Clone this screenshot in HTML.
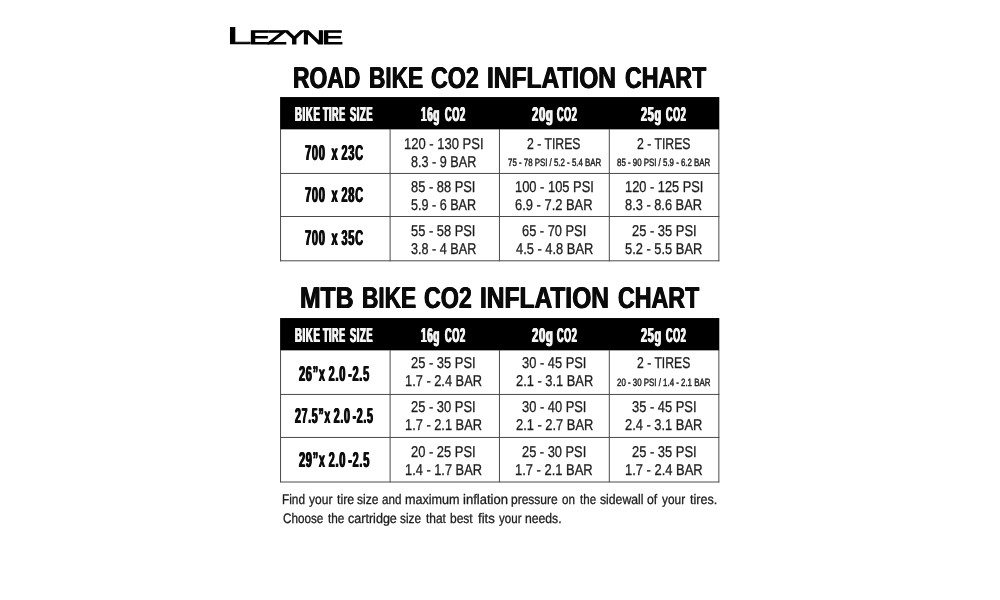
<!DOCTYPE html>
<html lang="en">
<head>
<meta charset="utf-8">
<title>Lezyne CO2 Inflation Chart</title>
<style>
html,body{margin:0;padding:0;background:#fff;}
body{width:1000px;height:600px;position:relative;overflow:hidden;font-family:"Liberation Sans",sans-serif;}
h1,p,section,footer,div{margin:0;padding:0;font-size:inherit;font-weight:inherit;}
.t{position:absolute;display:block;white-space:pre;line-height:1;transform-origin:0 0;text-rendering:geometricPrecision;}
.g{margin-left:4.2px;}
svg{position:absolute;left:0;top:0;}
.title{font-size:30px;font-weight:700;color:#0a0a0a;text-shadow:0.6px 0 0,-0.6px 0 0;}
.hdr{font-size:20.2px;font-weight:700;color:#f4f4f4;letter-spacing:1.3px;text-shadow:1px 0 0,-1px 0 0;}
.lbl{font-size:21.6px;font-weight:700;color:#0d0d0d;letter-spacing:1.4px;word-spacing:-1.6px;text-shadow:0.9px 0 0,-0.9px 0 0;}
.cell{font-size:15.7px;font-weight:400;color:#1c1c1c;-webkit-text-stroke:0.3px;}
.small{font-size:10.6px;font-weight:400;color:#222;-webkit-text-stroke:0.45px;}
.foot{font-size:13.8px;font-weight:400;color:#1c1c1c;-webkit-text-stroke:0.3px;}
.logoL{font-size:24.2px;font-weight:400;color:#000;-webkit-text-stroke:0.7px;}
.logo{font-size:19.2px;font-weight:400;color:#000;-webkit-text-stroke:0.9px;letter-spacing:-1.7px;}
</style>
</head>
<body>
<svg width="1000" height="600" viewBox="0 0 1000 600">
<rect x="280.1" y="97.05" width="439.2" height="32.3" fill="#000"/>
<line x1="280.05" x2="719.35" y1="173.45" y2="173.45" stroke="#4a4a4a" stroke-width="1"/>
<line x1="280.05" x2="719.35" y1="216.5" y2="216.5" stroke="#4a4a4a" stroke-width="1"/>
<line x1="280.05" x2="719.35" y1="260.8" y2="260.8" stroke="#4a4a4a" stroke-width="1"/>
<line x1="280.55" x2="280.55" y1="129" y2="261.3" stroke="#4a4a4a" stroke-width="1"/>
<line x1="390.1" x2="390.1" y1="129" y2="261.3" stroke="#4a4a4a" stroke-width="1"/>
<line x1="499.45" x2="499.45" y1="129" y2="261.3" stroke="#4a4a4a" stroke-width="1"/>
<line x1="609.3" x2="609.3" y1="129" y2="261.3" stroke="#4a4a4a" stroke-width="1"/>
<line x1="718.85" x2="718.85" y1="129" y2="261.3" stroke="#4a4a4a" stroke-width="1"/>
<rect x="280.1" y="318.05" width="439.2" height="32.3" fill="#000"/>
<line x1="280.05" x2="719.35" y1="394.45" y2="394.45" stroke="#4a4a4a" stroke-width="1"/>
<line x1="280.05" x2="719.35" y1="437.45" y2="437.45" stroke="#4a4a4a" stroke-width="1"/>
<line x1="280.05" x2="719.35" y1="482" y2="482" stroke="#4a4a4a" stroke-width="1"/>
<line x1="280.55" x2="280.55" y1="350" y2="482.3" stroke="#4a4a4a" stroke-width="1"/>
<line x1="390.1" x2="390.1" y1="350" y2="482.3" stroke="#4a4a4a" stroke-width="1"/>
<line x1="499.45" x2="499.45" y1="350" y2="482.3" stroke="#4a4a4a" stroke-width="1"/>
<line x1="609.3" x2="609.3" y1="350" y2="482.3" stroke="#4a4a4a" stroke-width="1"/>
<line x1="718.85" x2="718.85" y1="350" y2="482.3" stroke="#4a4a4a" stroke-width="1"/>
</svg>
<div class="brand"><span class="t logoL" style="left:227.07px;top:25px;transform:scaleX(1.8178)">L</span><span class="t logo" style="left:249.14px;top:29px;transform:scaleX(1.6450)">EZYNE</span></div>
<section class="chart">
<h1><span class="t title" style="left:293.46px;top:64px;transform:scaleX(0.7629)">ROAD</span> <span class="t title" style="left:368.67px;top:64px;transform:scaleX(0.7554)">BIKE</span> <span class="t title" style="left:430.71px;top:64px;transform:scaleX(0.7752)">CO2</span> <span class="t title" style="left:487.17px;top:64px;transform:scaleX(0.8174)">INFLATION</span> <span class="t title" style="left:625.31px;top:64px;transform:scaleX(0.7742)">CHART</span></h1>
<div class="tr thead">
<div class="th"><span class="t hdr" style="left:295.28px;top:105px;transform:scaleX(0.4769)">BIKE</span> <span class="t hdr" style="left:323.43px;top:105px;transform:scaleX(0.4433)">TIRE</span> <span class="t hdr" style="left:350.22px;top:105px;transform:scaleX(0.4629)">SIZE</span></div>
<div class="th"><span class="t hdr" style="left:421.18px;top:105px;transform:scaleX(0.4925)">16g</span> <span class="t hdr" style="left:444.51px;top:105px;transform:scaleX(0.4539)">CO2</span></div>
<div class="th"><span class="t hdr" style="left:531.74px;top:105px;transform:scaleX(0.5557)">20g</span> <span class="t hdr" style="left:557.01px;top:105px;transform:scaleX(0.4472)">CO2</span></div>
<div class="th"><span class="t hdr" style="left:641.03px;top:105px;transform:scaleX(0.5369)">25g</span> <span class="t hdr" style="left:665.81px;top:105px;transform:scaleX(0.4472)">CO2</span></div>
</div>
<div class="tr">
<div class="th">
<span class="t lbl" style="left:304.70px;top:142px;transform:scaleX(0.5125)">700  x 23C</span>
</div>
<div class="td">
<span class="t cell" style="left:403.82px;top:137px;transform:scaleX(0.8289)">120 - 130 PSI</span>
<span class="t cell" style="left:410.80px;top:155px;transform:scaleX(0.8050)">8.3 - 9 BAR</span>
</div>
<div class="td">
<span class="t cell" style="left:527.46px;top:137px;transform:scaleX(0.7807)">2 - TIRES</span>
<span class="t small" style="left:507.66px;top:158px;transform:scaleX(0.7432)">75 - 78 PSI / 5.2 - 5.4 BAR</span>
</div>
<div class="td">
<span class="t cell" style="left:636.96px;top:137px;transform:scaleX(0.7807)">2 - TIRES</span>
<span class="t small" style="left:617.11px;top:158px;transform:scaleX(0.7440)">85 - 90 PSI / 5.9 - 6.2 BAR</span>
</div>
</div>
<div class="tr">
<div class="th">
<span class="t lbl" style="left:304.70px;top:184px;transform:scaleX(0.5125)">700  x 28C</span>
</div>
<div class="td">
<span class="t cell" style="left:411.49px;top:180px;transform:scaleX(0.8208)">85 - 88 PSI</span>
<span class="t cell" style="left:410.90px;top:198px;transform:scaleX(0.8025)">5.9 - 6 BAR</span>
</div>
<div class="td">
<span class="t cell" style="left:515.03px;top:180px;transform:scaleX(0.8225)">100 - 105 PSI</span>
<span class="t cell" style="left:515.48px;top:198px;transform:scaleX(0.8237)">6.9 - 7.2 BAR</span>
</div>
<div class="td">
<span class="t cell" style="left:624.78px;top:180px;transform:scaleX(0.8171)">120 - 125 PSI</span>
<span class="t cell" style="left:625.39px;top:198px;transform:scaleX(0.8172)">8.3 - 8.6 BAR</span>
</div>
</div>
<div class="tr">
<div class="th">
<span class="t lbl" style="left:304.70px;top:227px;transform:scaleX(0.5125)">700  x 35C</span>
</div>
<div class="td">
<span class="t cell" style="left:411.49px;top:224px;transform:scaleX(0.8208)">55 - 58 PSI</span>
<span class="t cell" style="left:410.80px;top:242px;transform:scaleX(0.8050)">3.8 - 4 BAR</span>
</div>
<div class="td">
<span class="t cell" style="left:522.39px;top:224px;transform:scaleX(0.8183)">65 - 70 PSI</span>
<span class="t cell" style="left:515.79px;top:242px;transform:scaleX(0.8214)">4.5 - 4.8 BAR</span>
</div>
<div class="td">
<span class="t cell" style="left:631.68px;top:224px;transform:scaleX(0.8235)">25 - 35 PSI</span>
<span class="t cell" style="left:625.24px;top:242px;transform:scaleX(0.8204)">5.2 - 5.5 BAR</span>
</div>
</div>
</section>
<section class="chart">
<h1><span class="t title" style="left:300.46px;top:284px;transform:scaleX(0.8239)">MTB</span> <span class="t title" style="left:361.77px;top:284px;transform:scaleX(0.7554)">BIKE</span> <span class="t title" style="left:423.81px;top:284px;transform:scaleX(0.7752)">CO2</span> <span class="t title" style="left:480.27px;top:284px;transform:scaleX(0.8174)">INFLATION</span> <span class="t title" style="left:618.41px;top:284px;transform:scaleX(0.7742)">CHART</span></h1>
<div class="tr thead">
<div class="th"><span class="t hdr" style="left:295.28px;top:326px;transform:scaleX(0.4769)">BIKE</span> <span class="t hdr" style="left:323.43px;top:326px;transform:scaleX(0.4433)">TIRE</span> <span class="t hdr" style="left:350.22px;top:326px;transform:scaleX(0.4629)">SIZE</span></div>
<div class="th"><span class="t hdr" style="left:421.18px;top:326px;transform:scaleX(0.4925)">16g</span> <span class="t hdr" style="left:444.51px;top:326px;transform:scaleX(0.4539)">CO2</span></div>
<div class="th"><span class="t hdr" style="left:531.74px;top:326px;transform:scaleX(0.5557)">20g</span> <span class="t hdr" style="left:557.01px;top:326px;transform:scaleX(0.4472)">CO2</span></div>
<div class="th"><span class="t hdr" style="left:641.03px;top:326px;transform:scaleX(0.5369)">25g</span> <span class="t hdr" style="left:665.81px;top:326px;transform:scaleX(0.4472)">CO2</span></div>
</div>
<div class="tr">
<div class="th">
<span class="t lbl" style="left:299.10px;top:363px;transform:scaleX(0.5085)">26”x 2.0<span class="g">-</span>2.5</span>
</div>
<div class="td">
<span class="t cell" style="left:411.28px;top:356px;transform:scaleX(0.8235)">25 - 35 PSI</span>
<span class="t cell" style="left:404.78px;top:374px;transform:scaleX(0.8173)">1.7 - 2.4 BAR</span>
</div>
<div class="td">
<span class="t cell" style="left:522.39px;top:356px;transform:scaleX(0.8208)">30 - 45 PSI</span>
<span class="t cell" style="left:515.69px;top:374px;transform:scaleX(0.8194)">2.1 - 3.1 BAR</span>
</div>
<div class="td">
<span class="t cell" style="left:637.07px;top:356px;transform:scaleX(0.7777)">2 - TIRES</span>
<span class="t small" style="left:617.06px;top:378px;transform:scaleX(0.7448)">20 - 30 PSI / 1.4 - 2.1 BAR</span>
</div>
</div>
<div class="tr">
<div class="th">
<span class="t lbl" style="left:295.10px;top:405px;transform:scaleX(0.4904)">27.5”x 2.0<span class="g">-</span>2.5</span>
</div>
<div class="td">
<span class="t cell" style="left:411.28px;top:400px;transform:scaleX(0.8235)">25 - 30 PSI</span>
<span class="t cell" style="left:404.78px;top:418px;transform:scaleX(0.8173)">1.7 - 2.1 BAR</span>
</div>
<div class="td">
<span class="t cell" style="left:522.39px;top:400px;transform:scaleX(0.8208)">30 - 40 PSI</span>
<span class="t cell" style="left:515.58px;top:418px;transform:scaleX(0.8216)">2.1 - 2.7 BAR</span>
</div>
<div class="td">
<span class="t cell" style="left:631.84px;top:400px;transform:scaleX(0.8221)">35 - 45 PSI</span>
<span class="t cell" style="left:625.08px;top:418px;transform:scaleX(0.8216)">2.4 - 3.1 BAR</span>
</div>
</div>
<div class="tr">
<div class="th">
<span class="t lbl" style="left:299.10px;top:449px;transform:scaleX(0.5092)">29”x 2.0<span class="g">-</span>2.5</span>
</div>
<div class="td">
<span class="t cell" style="left:411.28px;top:445px;transform:scaleX(0.8235)">20 - 25 PSI</span>
<span class="t cell" style="left:404.78px;top:463px;transform:scaleX(0.8173)">1.4 - 1.7 BAR</span>
</div>
<div class="td">
<span class="t cell" style="left:522.39px;top:445px;transform:scaleX(0.8183)">25 - 30 PSI</span>
<span class="t cell" style="left:515.38px;top:463px;transform:scaleX(0.8238)">1.7 - 2.1 BAR</span>
</div>
<div class="td">
<span class="t cell" style="left:631.68px;top:445px;transform:scaleX(0.8235)">25 - 35 PSI</span>
<span class="t cell" style="left:624.88px;top:463px;transform:scaleX(0.8238)">1.7 - 2.4 BAR</span>
</div>
</div>
</section>
<footer class="note">
<p><span class="t foot" style="left:282.44px;top:493px;transform:scaleX(0.8560)">Find</span> <span class="t foot" style="left:309.20px;top:493px;transform:scaleX(0.8710)">your</span> <span class="t foot" style="left:336.70px;top:493px;transform:scaleX(0.8960)">tire</span> <span class="t foot" style="left:357.28px;top:493px;transform:scaleX(0.8716)">size</span> <span class="t foot" style="left:382.28px;top:493px;transform:scaleX(0.8414)">and</span> <span class="t foot" style="left:405.32px;top:493px;transform:scaleX(0.9133)">maximum</span> <span class="t foot" style="left:462.99px;top:493px;transform:scaleX(0.9457)">inflation</span> <span class="t foot" style="left:511.35px;top:493px;transform:scaleX(0.8705)">pressure</span> <span class="t foot" style="left:562.28px;top:493px;transform:scaleX(0.8429)">on</span> <span class="t foot" style="left:579.50px;top:493px;transform:scaleX(0.8373)">the</span> <span class="t foot" style="left:599.58px;top:493px;transform:scaleX(0.8854)">sidewall</span> <span class="t foot" style="left:647.26px;top:493px;transform:scaleX(0.8889)">of</span> <span class="t foot" style="left:662.20px;top:493px;transform:scaleX(0.8598)">your</span> <span class="t foot" style="left:689.50px;top:493px;transform:scaleX(0.9148)">tires.</span></p>
<p><span class="t foot" style="left:282.88px;top:512px;transform:scaleX(0.8473)">Choose</span> <span class="t foot" style="left:327.70px;top:512px;transform:scaleX(0.8533)">the</span> <span class="t foot" style="left:347.75px;top:512px;transform:scaleX(0.9100)">cartridge</span> <span class="t foot" style="left:400.49px;top:512px;transform:scaleX(0.8547)">size</span> <span class="t foot" style="left:425.80px;top:512px;transform:scaleX(0.8652)">that</span> <span class="t foot" style="left:450.35px;top:512px;transform:scaleX(0.8706)">best</span> <span class="t foot" style="left:478.00px;top:512px;transform:scaleX(0.9565)">fits</span> <span class="t foot" style="left:499.00px;top:512px;transform:scaleX(0.8374)">your</span> <span class="t foot" style="left:525.14px;top:512px;transform:scaleX(0.8835)">needs.</span></p>
</footer>
</body>
</html>
